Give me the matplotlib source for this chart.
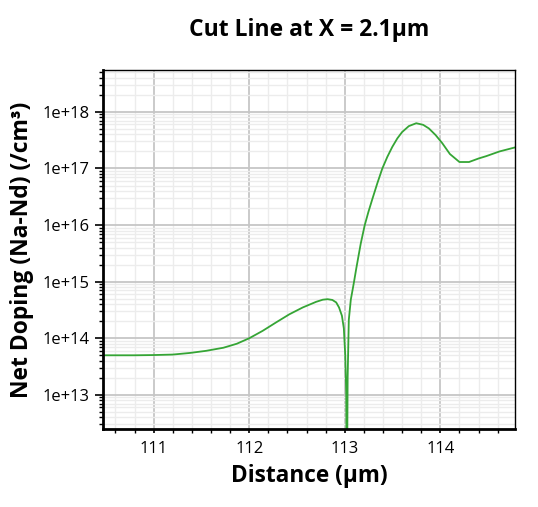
import numpy as np
import matplotlib
matplotlib.use('Agg')
import matplotlib.pyplot as plt
from matplotlib.ticker import LogLocator, MultipleLocator, FuncFormatter, NullFormatter

# Net doping along the cut line (absolute value, /cm^3)
distance = [110.47, 110.8, 111.0, 111.2, 111.38, 111.55, 111.73, 111.87, 112.0,
            112.14, 112.28, 112.42, 112.56, 112.7, 112.77, 112.82, 112.87, 112.91,
            112.94, 112.97, 112.99, 113.005, 113.015, 113.022, 113.03, 113.042,
            113.063, 113.08, 113.097, 113.12, 113.143, 113.167, 113.209, 113.247,
            113.289, 113.341, 113.393, 113.445, 113.497, 113.55, 113.6, 113.67,
            113.748, 113.82, 113.88, 113.95, 114.02, 114.1, 114.2, 114.3, 114.4,
            114.48, 114.62, 114.78]
doping = [5e13, 5e13, 5.05e13, 5.15e13, 5.5e13, 6e13, 6.8e13, 8e13, 1e14,
          1.35e14, 1.9e14, 2.65e14, 3.5e14, 4.4e14, 4.8e14, 4.9e14, 4.75e14, 4.3e14,
          3.5e14, 2.5e14, 1.5e14, 5e13, 1.1e13, 1e11, 2e13, 2.1e14,
          4.8e14, 6.9e14, 1e15, 1.7e15, 2.8e15, 4.7e15, 1e16, 1.7e16,
          2.9e16, 5.5e16, 1e17, 1.6e17, 2.4e17, 3.4e17, 4.4e17, 5.6e17,
          6.3e17, 5.9e17, 5.1e17, 3.9e17, 2.8e17, 1.8e17, 1.3e17, 1.3e17, 1.5e17,
          1.65e17, 2e17, 2.35e17]

title = 'Cut Line at X = 2.1µm'
x_label = 'Distance (µm)'
y_label = 'Net Doping (Na-Nd) (/cm³)'

plt.rcParams['font.family'] = ['Open Sans', 'DejaVu Sans']

fig = plt.figure(figsize=(5.38, 5.07), dpi=100)
ax = fig.add_axes([0.1915, 0.154, 0.7655, 0.708])

ax.plot(distance, doping, color='#35a535', linewidth=1.3)

ax.set_yscale('log')
ax.set_xlim(110.47, 114.78)
ax.set_ylim(2.5e12, 5.5e18)

ax.xaxis.set_major_locator(MultipleLocator(1))
ax.xaxis.set_minor_locator(MultipleLocator(0.2))
ax.yaxis.set_major_locator(LogLocator(base=10, numticks=20))
ax.yaxis.set_minor_locator(LogLocator(base=10, subs=np.arange(2, 10), numticks=20))
ax.yaxis.set_major_formatter(FuncFormatter(lambda v, p: '%.0e' % v))
ax.yaxis.set_minor_formatter(NullFormatter())

ax.grid(which='major', color='#c6c6c6', linewidth=1.3)
ax.grid(which='minor', color='#ececec', linewidth=1.0)
ax.set_axisbelow(True)

ax.tick_params(axis='both', which='major', labelsize=12, length=6, width=1.2, color='black')
ax.tick_params(axis='both', which='minor', length=3, width=1.0)
ax.tick_params(axis='x', which='major', length=3, pad=6)

ax.spines['left'].set_linewidth(2)
ax.spines['bottom'].set_linewidth(2)
ax.spines['top'].set_linewidth(1)
ax.spines['right'].set_linewidth(1)

ax.set_xlabel(x_label, fontsize=16.3, fontweight='bold', labelpad=5)
ax.set_ylabel(y_label, fontsize=16.5, fontweight='bold', labelpad=6)
fig.text(0.574, 1 - 30 / 507, title, ha='center', va='center',
         fontsize=16.5, fontweight='bold')

fig.savefig('out.png', dpi=100)
